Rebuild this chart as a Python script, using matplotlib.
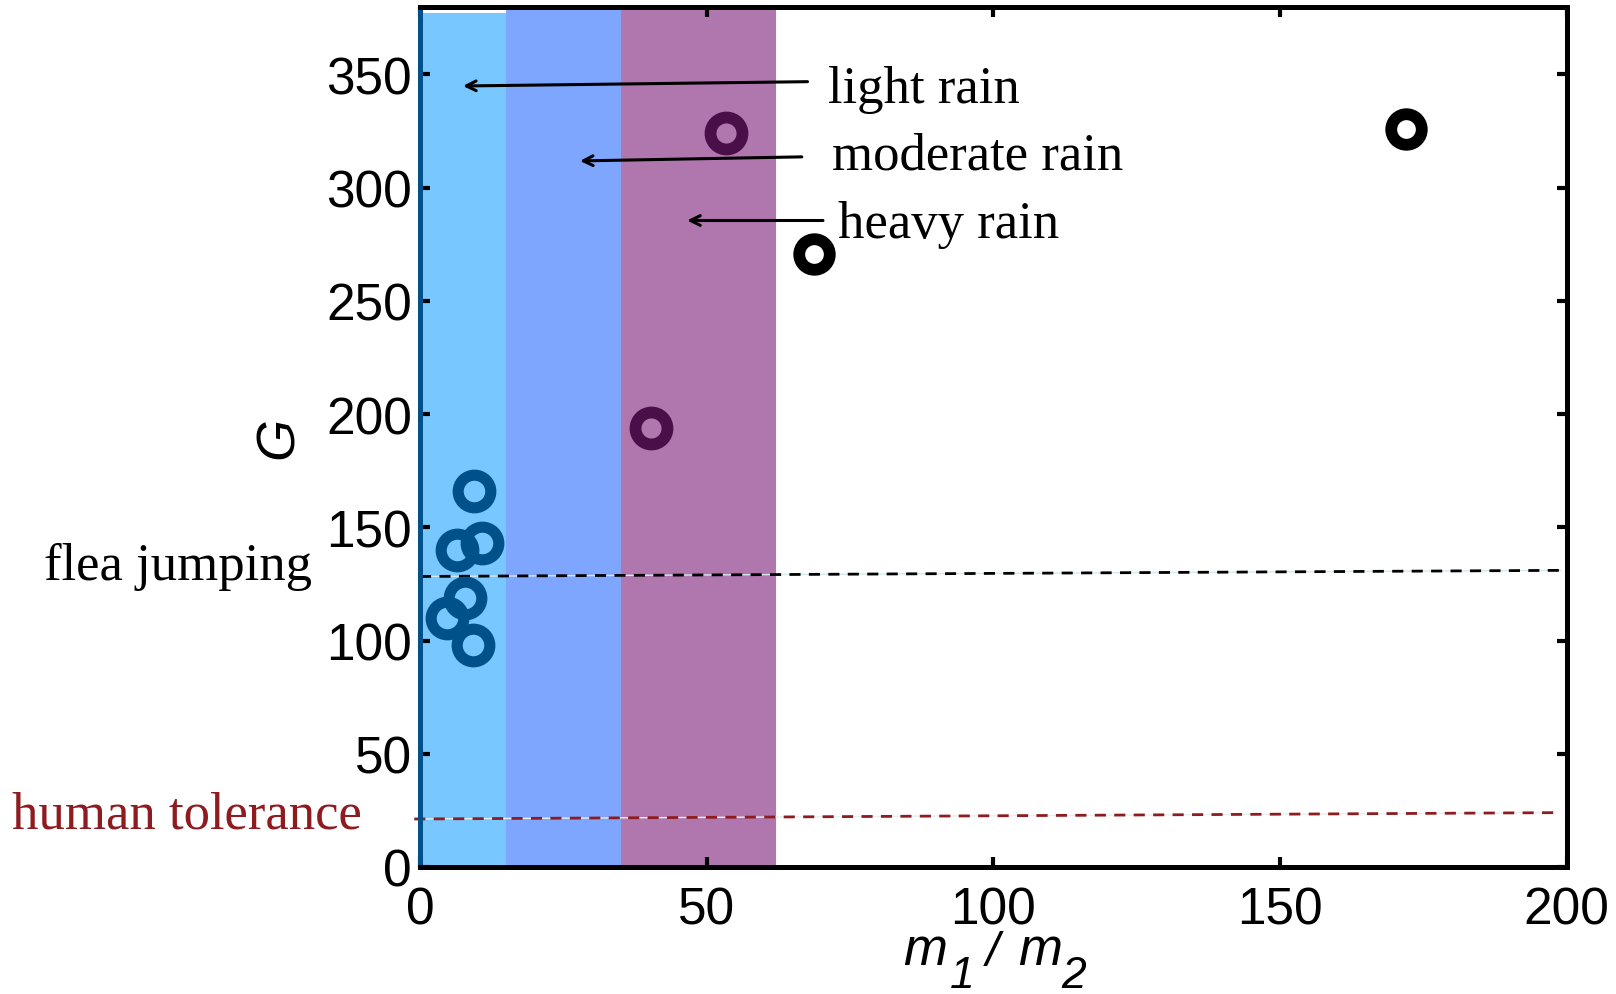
import matplotlib
matplotlib.use("Agg")
import matplotlib.pyplot as plt

plt.rcParams['font.family'] = ['Liberation Sans', 'DejaVu Sans']

# rain regimes (m1/m2 ranges)
band_edges = [0, 15, 35, 62]
band_tops = [377, 379, 379]
band_colors = ['#78C7FF', '#7FA6FF', '#B076AE']
band_labels = ['light rain', 'moderate rain', 'heavy rain']

# measurements, split by regime
light_x = [9.4, 6.4, 10.8, 7.8, 4.7, 9.3]
light_g = [166, 140, 143, 118.6, 110, 98]
heavy_x = [40.3, 53.4]
heavy_g = [194, 324]
big_x = [68.7, 172]
big_g = [270.5, 325.7]

# reference levels (slightly tilted dashed lines)
flea_x = [0, 199]
flea_g = [128.3, 131.0]
human_x = [-1, 198]
human_g = [21.2, 24.0]

# arrows: text anchor (x, y), arrow tail, arrow tip
text_pos = [(71.1, 338), (71.8, 308.4), (72.9, 278.3)]
arrow_tail = [(67.6, 346.8), (66.6, 313.6), (70.3, 285.5)]
arrow_tip = [(7.5, 344.9), (27.9, 311.8), (46.6, 285.5)]

W, H = 1616, 995
fig = plt.figure(figsize=(W / 100, H / 100), dpi=100)
ax = fig.add_axes([420 / W, 1 - 868 / H, 1146.5 / W, 860.5 / H])

for i in range(3):
    ax.fill_between([band_edges[i], band_edges[i + 1]], 0, band_tops[i],
                    color=band_colors[i], lw=0.8, edgecolor=band_colors[i], zorder=1)

ax.plot(flea_x, flea_g, color='#d2e9ee', lw=1, zorder=2, clip_on=False)
ax.plot(flea_x, flea_g, color='black', lw=2, ls=(0, (4, 3)), zorder=2.1, clip_on=False)
ax.plot(human_x, human_g, color='#e6eef0', lw=1, zorder=2, clip_on=False)
ax.plot(human_x, human_g, color='#8E1B1F', lw=2, ls=(0, (4, 3)), zorder=2.1, clip_on=False)

ax.plot(light_x, light_g, 'o', ms=23.5, mfc='none', mec='#00508A', mew=8, zorder=3)
ax.plot(heavy_x, heavy_g, 'o', ms=23, mfc='none', mec='#4A0F48', mew=8.5, zorder=3)
ax.plot(big_x, big_g, 'o', ms=22, mfc='none', mec='black', mew=8.5, zorder=3)

for lab, tp, tail, tip in zip(band_labels, text_pos, arrow_tail, arrow_tip):
    ax.annotate('', xy=tip, xytext=tail,
                arrowprops=dict(arrowstyle='->,head_length=0.7,head_width=0.35',
                                color='black', lw=2.2, shrinkA=0, shrinkB=0), zorder=4)
    ax.text(tp[0], tp[1], lab, family='Liberation Serif', fontsize=38,
            va='baseline', ha='left', zorder=4)

ax.text(-18.8, 127, 'flea jumping', family='Liberation Serif', fontsize=38,
        ha='right', va='baseline', clip_on=False)
ax.text(-10.2, 17.6, 'human tolerance', family='Liberation Serif', fontsize=38,
        color='#8E1B1F', ha='right', va='baseline', clip_on=False)

ax.set_xlim(0, 200)
ax.set_ylim(0, 380)
ax.set_xticks([0, 50, 100, 150, 200])
ax.set_yticks(range(0, 351, 50))
ax.tick_params(which='both', direction='in', length=7, width=3, labelsize=37,
               top=True, right=True)
ax.tick_params(axis='x', pad=13)
ax.tick_params(axis='y', pad=5.8)
for t in ax.yaxis.get_major_ticks():
    t.tick1line.set_color('#00508A')

for s in ax.spines.values():
    s.set_linewidth(3.6)
    s.set_zorder(5)
ax.spines['left'].set_color('#00508A')

# x label with large, dropped subscripts
xlabel_parts = [('m', 903, 965, 38), ('1', 950, 988, 32), ('/', 986, 966, 35),
                ('m', 1018, 965, 38), ('2', 1061, 988, 32)]
for s, px, py, fs in xlabel_parts:
    fig.text(px / W, 1 - py / H, s, fontsize=fs, style='italic',
             ha='left', va='baseline')

ax.set_ylabel('G', fontsize=39, style='italic', labelpad=16)

fig.savefig('out.png', dpi=100)
